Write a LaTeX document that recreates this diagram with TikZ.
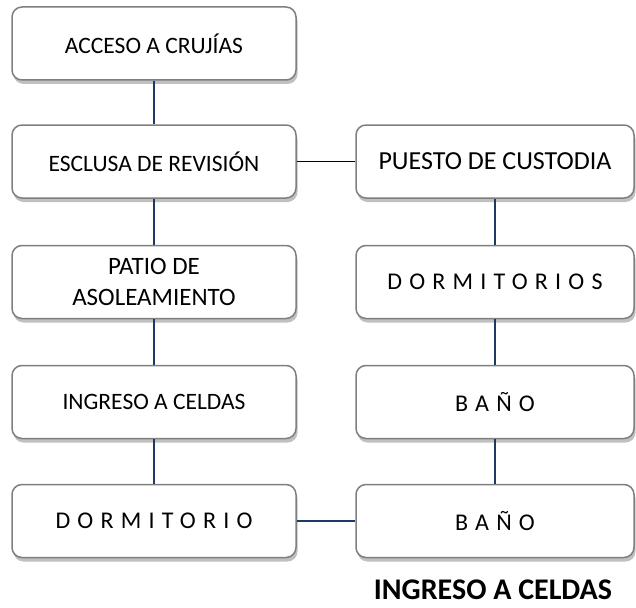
\documentclass[tikz,border=0pt]{standalone}
\usepackage{fontspec}
\setmainfont{Carlito}
\newfontfamily\spacedfont[LetterSpace=30]{Carlito}
\usetikzlibrary{positioning,shadows}
\definecolor{navy}{HTML}{1F3864}
\definecolor{frame}{HTML}{7F7F7F}
\tikzset{box/.style={draw=frame,line width=1.5pt,fill=white,rounded corners=10pt,minimum height=73pt,align=center,text=black,drop shadow={shadow xshift=1.5pt,shadow yshift=-4pt,fill=black!55,opacity=.45}},lbox/.style={box,minimum width=284pt,font=\fontsize{23.5}{28}\selectfont},rbox/.style={box,minimum width=278pt,font=\fontsize{26}{31}\selectfont},spaced/.style={font=\spacedfont\fontsize{24}{29}\selectfont},link/.style={draw=navy,line width=1.8pt},blackline/.style={draw=black,line width=1.8pt}}
\begin{document}
\begin{tikzpicture}[x=1pt,y=-1pt]
\useasboundingbox (0,0) rectangle (636,607);
% columna izquierda
\node[lbox] (acceso) at (154,43.5) {ACCESO A CRUJÍAS};
\node[lbox] (esclusa) at (154,161.5) {ESCLUSA DE REVISIÓN};
\node[lbox,font=\fontsize{25}{31}\selectfont] (patio) at (154,282) {PATIO DE\\ASOLEAMIENTO};
\node[lbox] (ingreso) at (154,402) {INGRESO A CELDAS};
\node[lbox,spaced] (dormitorio) at (154,521) {DORMITORIO};
% columna derecha
\node[rbox] (custodia) at (495,161.5) {PUESTO DE CUSTODIA};
\node[rbox,spaced] (dormitorios) at (495,282) {DORMITORIOS};
\node[rbox,spaced] (bano) at (495,402) {BAÑO};
\node[rbox,spaced] (banob) at (495,521) {BAÑO};
\node[font=\bfseries\fontsize{30}{36}\selectfont,anchor=base,inner sep=0pt] (titulo) at (493,599) {INGRESO A CELDAS};
% conexiones
\draw[link] (acceso) -- (esclusa);
\draw[link] (esclusa) -- (patio);
\draw[link] (patio) -- (ingreso);
\draw[link] (ingreso) -- (dormitorio);
\draw[link] (custodia) -- (dormitorios);
\draw[link] (dormitorios) -- (bano);
\draw[link] (bano) -- (banob);
\draw[blackline] (esclusa) -- (custodia);
\draw[link] (dormitorio) -- (banob);
\end{tikzpicture}
\end{document}
